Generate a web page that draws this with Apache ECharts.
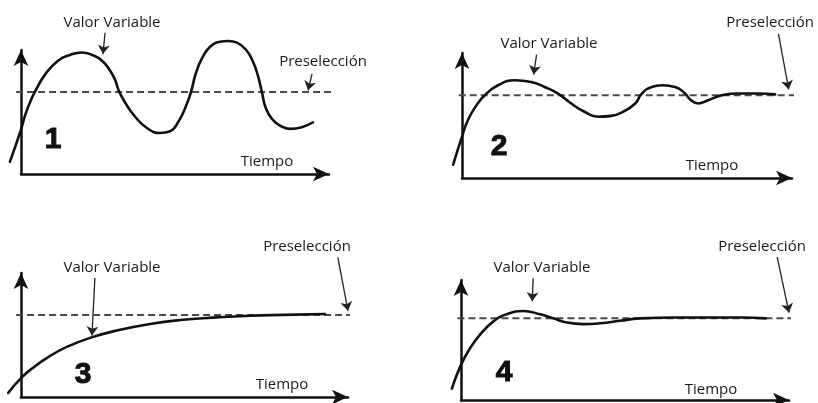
<!DOCTYPE html>
<html>
<head>
<meta charset="utf-8">
<script src="https://cdn.jsdelivr.net/npm/echarts@6/dist/echarts.min.js"></script>
<style>
html,body{margin:0;padding:0;background:#fff;}
#chart{width:818px;height:403px;}
</style>
</head>
<body>
<div id="chart"></div>
<script>
// ---- Data (time units on x, value normalised so that setpoint = 1) ----
var time1 = [-0.36, 0, 0.13, 0.29, 0.45, 0.78, 1.2, 1.59, 1.98, 2.31, 2.63, 2.89, 3.05, 3.18, 3.38, 3.7, 4.09, 4.51, 4.84, 5.13, 5.36, 5.52, 5.68, 5.88, 6.14, 6.46, 6.73, 7.01, 7.31, 7.53, 7.69, 7.82, 7.95, 8.15, 8.41, 8.73, 9.12, 9.48];
var valor1 = [0.15, 0.54, 0.71, 0.87, 1.0, 1.21, 1.38, 1.45, 1.48, 1.45, 1.38, 1.26, 1.15, 1.01, 0.87, 0.7, 0.56, 0.5, 0.52, 0.65, 0.83, 1.0, 1.23, 1.41, 1.55, 1.61, 1.62, 1.6, 1.51, 1.37, 1.2, 1.0, 0.8, 0.67, 0.59, 0.55, 0.57, 0.63];

var time2 = [-0.27, 0, 0.18, 0.44, 0.69, 1.09, 1.6, 2.1, 2.5, 2.91, 3.31, 3.71, 4.12, 4.52, 4.83, 5.25, 5.45, 5.75, 6.06, 6.46, 6.76, 6.91, 7.16, 7.46, 7.87, 8.28, 8.98, 9.49];
var valor2 = [0.16, 0.5, 0.7, 0.88, 1.0, 1.12, 1.18, 1.16, 1.1, 1.02, 0.9, 0.8, 0.74, 0.75, 0.79, 0.9, 1.02, 1.1, 1.12, 1.1, 1.02, 0.95, 0.9, 0.94, 1.0, 1.02, 1.02, 1.01];

var time3 = [-0.39, 0, 0.38, 0.89, 1.4, 2.11, 2.93, 3.95, 4.96, 5.99, 7.0, 8.02, 9.3];
var valor3 = [0.05, 0.23, 0.36, 0.5, 0.61, 0.72, 0.81, 0.89, 0.94, 0.97, 0.99, 1.0, 1.01];

var time4 = [-0.28, 0, 0.27, 0.58, 0.98, 1.39, 1.9, 2.41, 2.81, 3.22, 3.73, 4.24, 4.84, 5.45, 6.54, 7.56, 8.58, 9.29];
var valor4 = [0.14, 0.43, 0.63, 0.8, 0.96, 1.05, 1.09, 1.05, 1.0, 0.95, 0.93, 0.94, 0.97, 1.0, 1.01, 1.01, 1.01, 1.0];

var preseleccion = 1;                          // setpoint value
var preselStart = [-0.16, -0.1, -0.15, -0.11]; // dashed line time span
var preselEnd = [10.1, 10.14, 10.15, 10.22];

// annotation arrows: [fromTime, fromValue, toTime, toValue]
var arrowValor = [[2.73, 1.72, 2.66, 1.46], [2.26, 1.49, 2.17, 1.25], [2.26, 1.45, 2.17, 0.75], [2.2, 1.49, 2.17, 1.21]];
var arrowPresel = [[9.45, 1.22, 9.32, 1.02], [9.59, 1.74, 9.9, 1.07], [9.69, 1.7, 10.0, 1.05], [9.64, 1.75, 10.0, 1.07]];

var panelNumbers = ['1', '2', '3', '4'];
var labelValor = 'Valor Variable';
var labelPresel = 'Preselección';
var labelTiempo = 'Tiempo';

// ---- Layout ----
var frames = [
  {left: 21, top: 50, width: 308, height: 124},
  {left: 462, top: 53, width: 330, height: 125},
  {left: 21, top: 273, width: 327, height: 124},
  {left: 461, top: 280, width: 328, height: 120}
];
var yMax = [1.51, 1.51, 1.51, 1.47];
var xMax = 10;
var xPre = 0.5;

var times = [time1, time2, time3, time4];
var valores = [valor1, valor2, valor3, valor4];

function zip(a, b) { return a.map(function (x, i) { return [x, b[i]]; }); }

var grids = [], xAxes = [], yAxes = [], series = [];
var axisStyle = {color: '#111', width: 2.5};
var hiddenAxis = {axisLine: {show: false}, axisTick: {show: false}, axisLabel: {show: false}, splitLine: {show: false}};

for (var i = 0; i < 4; i++) {
  var f = frames[i];
  var pxPerUnit = f.width / xMax;
  grids.push({left: f.left, top: f.top, width: f.width, height: f.height});
  grids.push({left: f.left - xPre * pxPerUnit, top: f.top, width: f.width + xPre * pxPerUnit, height: f.height});

  xAxes.push({
    type: 'value', gridIndex: 2 * i, min: 0, max: xMax,
    axisLine: {show: true, onZero: false, lineStyle: axisStyle, symbol: ['none', 'arrow'], symbolSize: [11, 16]},
    axisTick: {show: false}, axisLabel: {show: false}, splitLine: {show: false}
  });
  yAxes.push({
    type: 'value', gridIndex: 2 * i, min: 0, max: yMax[i],
    axisLine: {show: true, onZero: false, lineStyle: axisStyle, symbol: ['none', 'arrow'], symbolSize: [11, 16]},
    axisTick: {show: false}, axisLabel: {show: false}, splitLine: {show: false}
  });
  xAxes.push(Object.assign({type: 'value', gridIndex: 2 * i + 1, min: -xPre, max: xMax}, hiddenAxis));
  yAxes.push(Object.assign({type: 'value', gridIndex: 2 * i + 1, min: 0, max: yMax[i]}, hiddenAxis));

  var di = 2 * i + 1;
  series.push({
    type: 'line', xAxisIndex: di, yAxisIndex: di, clip: false, silent: true,
    data: [[preselStart[i], preseleccion], [preselEnd[i], preseleccion]],
    symbol: 'none',
    lineStyle: {color: '#4a4a4a', width: 2, type: [7, 4]}
  });
  series.push({
    type: 'line', xAxisIndex: di, yAxisIndex: di, clip: false, silent: true,
    data: zip(times[i], valores[i]),
    symbol: 'none', smooth: 0.5, smoothConstraint: false,
    lineStyle: {color: '#111', width: 2.6, cap: 'round', join: 'round'}
  });
  series.push({
    type: 'lines', coordinateSystem: 'cartesian2d', xAxisIndex: di, yAxisIndex: di,
    clip: false, silent: true,
    symbol: ['none', 'arrow'], symbolSize: [6, 9],
    lineStyle: {color: '#222', width: 1.3, opacity: 1},
    data: [
      {coords: [[arrowValor[i][0], arrowValor[i][1]], [arrowValor[i][2], arrowValor[i][3]]]},
      {coords: [[arrowPresel[i][0], arrowPresel[i][1]], [arrowPresel[i][2], arrowPresel[i][3]]]}
    ]
  });
}

var txtFont = '15px "Open Sans", sans-serif';
var numFont = 'bold 30px "Liberation Sans", Arial, sans-serif';
var textPos = {
  valor: [[112, 23], [549, 44], [112, 268], [542, 268]],
  presel: [[323, 62], [770, 23], [307, 247], [762, 247]],
  tiempo: [[267, 162], [712, 166], [282, 385], [711, 390]],
  num: [[53, 140], [499, 147], [83, 375], [504, 373]]
};
var graphics = [];
function addText(pos, text, font, color, stroke) {
  graphics.push({type: 'text', x: pos[0], y: pos[1], silent: true,
    style: {text: text, font: font, fill: color, align: 'center', verticalAlign: 'middle',
      stroke: stroke ? color : null, lineWidth: stroke || 0}});
}
for (var k = 0; k < 4; k++) {
  addText(textPos.valor[k], labelValor, txtFont, '#1a1a1a');
  addText(textPos.presel[k], labelPresel, txtFont, '#1a1a1a');
  addText(textPos.tiempo[k], labelTiempo, txtFont, '#1a1a1a');
  addText(textPos.num[k], panelNumbers[k], numFont, '#111', 1);
}

var chart = echarts.init(document.getElementById('chart'), null, {renderer: 'canvas'});
chart.setOption({
  animation: false,
  backgroundColor: '#fff',
  grid: grids,
  xAxis: xAxes,
  yAxis: yAxes,
  series: series,
  graphic: graphics
});
</script>
</body>
</html>
